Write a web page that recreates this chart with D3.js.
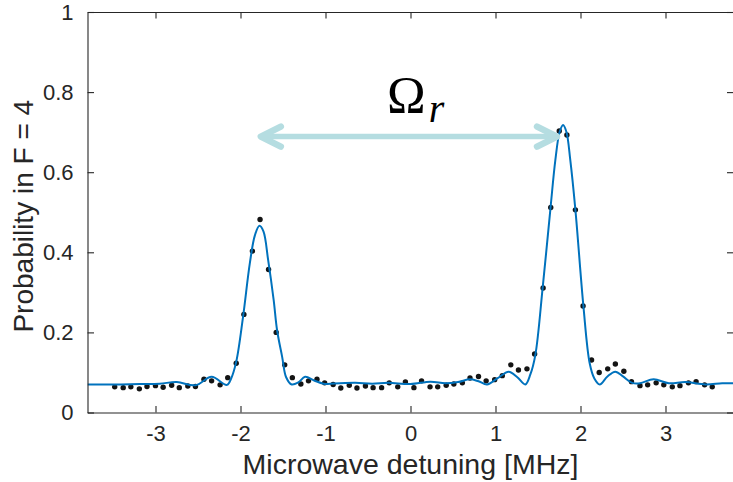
<!DOCTYPE html>
<html>
<head>
<meta charset="utf-8">
<script src="https://cdn.jsdelivr.net/npm/d3@7"></script>
<style>
  html, body { margin: 0; padding: 0; background: #fff; }
  svg { display: block; }
  text { font-family: "Liberation Sans", Arial, Helvetica, sans-serif; fill: #262626; }
</style>
</head>
<body>
<svg id="chart" width="733" height="482"></svg>
<script>
// Measured population in F = 4 versus microwave detuning (MHz)
const detuning = [
  -3.48, -3.38, -3.29, -3.19, -3.10, -3.00, -2.91, -2.81, -2.72, -2.62,
  -2.53, -2.43, -2.34, -2.24, -2.15, -2.05, -1.96, -1.86, -1.77, -1.67,
  -1.58, -1.48, -1.39, -1.29, -1.20, -1.10, -1.01, -0.91, -0.82, -0.72,
  -0.63, -0.53, -0.44, -0.34, -0.25, -0.15, -0.06, 0.04, 0.13, 0.23,
  0.32, 0.42, 0.51, 0.61, 0.70, 0.80, 0.89, 0.99, 1.08, 1.18,
  1.27, 1.37, 1.46, 1.56, 1.65, 1.75, 1.84, 1.94, 2.03, 2.13,
  2.22, 2.32, 2.41, 2.51, 2.60, 2.70, 2.79, 2.89, 2.98, 3.08,
  3.17, 3.27, 3.36, 3.46, 3.55
];
const probability = [
  0.064, 0.062, 0.064, 0.059, 0.065, 0.067, 0.063, 0.068, 0.062, 0.066,
  0.065, 0.083, 0.079, 0.069, 0.087, 0.123, 0.245, 0.403, 0.482, 0.357,
  0.200, 0.119, 0.087, 0.071, 0.079, 0.083, 0.074, 0.070, 0.061, 0.068,
  0.061, 0.066, 0.062, 0.062, 0.074, 0.064, 0.076, 0.062, 0.079, 0.064,
  0.064, 0.068, 0.071, 0.074, 0.086, 0.090, 0.079, 0.082, 0.092, 0.119,
  0.106, 0.109, 0.146, 0.311, 0.512, 0.703, 0.693, 0.506, 0.266, 0.131,
  0.100, 0.109, 0.121, 0.103, 0.077, 0.067, 0.069, 0.074, 0.069, 0.064,
  0.067, 0.074, 0.077, 0.069, 0.064
];

// Theory curve for the two Rabi sidebands
const fitDetuning = [
  -3.80, -3.48, -3.18, -2.95, -2.75, -2.53, -2.34, -2.16, -2.11, -2.05,
  -1.97, -1.89, -1.83, -1.777, -1.73, -1.675, -1.61, -1.57, -1.51, -1.463,
  -1.398, -1.32, -1.24, -1.133, -1.024, -0.83, -0.65, -0.45, -0.26, 0.00,
  0.235, 0.41, 0.56, 0.70, 0.80, 0.90, 1.02, 1.155, 1.257, 1.35,
  1.41, 1.469, 1.555, 1.645, 1.704, 1.755, 1.795, 1.834, 1.88, 1.94,
  2.034, 2.108, 2.163, 2.226, 2.317, 2.41, 2.50, 2.607, 2.70, 2.86,
  3.04, 3.235, 3.47, 3.667, 3.80
];
const fitProbability = [
  0.070, 0.070, 0.071, 0.072, 0.076, 0.068, 0.089, 0.069, 0.085, 0.127,
  0.239, 0.373, 0.443, 0.466, 0.452, 0.381, 0.281, 0.206, 0.139, 0.088,
  0.070, 0.075, 0.089, 0.080, 0.072, 0.073, 0.074, 0.072, 0.074, 0.071,
  0.077, 0.073, 0.076, 0.083, 0.078, 0.070, 0.085, 0.102, 0.088, 0.070,
  0.095, 0.144, 0.312, 0.506, 0.630, 0.701, 0.718, 0.701, 0.630, 0.506,
  0.266, 0.123, 0.085, 0.070, 0.090, 0.102, 0.090, 0.074, 0.073, 0.083,
  0.073, 0.076, 0.070, 0.073, 0.073
];

const xTicks = [-3, -2, -1, 0, 1, 2, 3];
const xTickLabels = ["-3", "-2", "-1", "0", "1", "2", "3"];
const yTicks = [0, 0.2, 0.4, 0.6, 0.8, 1];
const yTickLabels = ["0", "0.2", "0.4", "0.6", "0.8", "1"];

const svg = d3.select("#chart");
const plotLeft = 87.5, plotRight = 733.5, plotTop = 12, plotBottom = 412.5;
const axisColor = "#262626";
const tickLen = 6.5;

const x = d3.scaleLinear().domain([-3.8, 3.8]).range([plotLeft, plotRight]);
const y = d3.scaleLinear().domain([0, 1]).range([plotBottom, plotTop]);

// Theory curve
const line = d3.line()
  .x((d, i) => x(fitDetuning[i]))
  .y((d, i) => y(fitProbability[i]))
  .curve(d3.curveCatmullRom.alpha(0.5));

const plot = svg.append("g");
plot.append("defs").append("clipPath").attr("id", "plot-clip")
  .append("rect").attr("x", plotLeft).attr("y", plotTop)
  .attr("width", plotRight - plotLeft).attr("height", plotBottom - plotTop);

// Data points
plot.append("g")
  .selectAll("circle")
  .data(probability)
  .join("circle")
  .attr("cx", (d, i) => x(detuning[i]))
  .attr("cy", d => y(d))
  .attr("r", 2.7)
  .attr("fill", "#141414");

plot.append("path")
  .datum(fitProbability)
  .attr("clip-path", "url(#plot-clip)")
  .attr("fill", "none")
  .attr("stroke", "#0072BD")
  .attr("stroke-width", 2)
  .attr("stroke-linejoin", "round")
  .attr("d", line);

// Axes (box with inward ticks)
const xAxisBottom = d3.axisBottom(x).tickValues(xTicks)
  .tickFormat((d, i) => xTickLabels[i]).tickSizeInner(-tickLen).tickSizeOuter(0).tickPadding(13);
const xAxisTop = d3.axisTop(x).tickValues(xTicks)
  .tickFormat("").tickSizeInner(-tickLen).tickSizeOuter(0);
const yAxisLeft = d3.axisLeft(y).tickValues(yTicks)
  .tickFormat((d, i) => yTickLabels[i]).tickSizeInner(-tickLen).tickSizeOuter(0).tickPadding(14);
const yAxisRight = d3.axisRight(y).tickValues(yTicks)
  .tickFormat("").tickSizeInner(-tickLen).tickSizeOuter(0);

function styleAxis(g) {
  g.select(".domain").attr("stroke", axisColor).attr("stroke-width", 1.1);
  g.selectAll(".tick line").attr("stroke", axisColor).attr("stroke-width", 1.1);
  g.selectAll(".tick text").attr("fill", axisColor)
    .style("font-family", "'Liberation Sans', Arial, sans-serif")
    .style("font-size", "22px");
}

svg.append("g").attr("transform", `translate(0,${plotBottom})`).call(xAxisBottom).call(styleAxis);
svg.append("g").attr("transform", `translate(0,${plotTop})`).call(xAxisTop).call(styleAxis);
svg.append("g").attr("transform", `translate(${plotLeft},0)`).call(yAxisLeft).call(styleAxis);
svg.append("g").attr("transform", `translate(${plotRight},0)`).call(yAxisRight).call(styleAxis);

// Axis titles
svg.append("text")
  .attr("x", (plotLeft + plotRight) / 2)
  .attr("y", 474)
  .attr("text-anchor", "middle")
  .style("font-size", "28.5px")
  .text("Microwave detuning [MHz]");

svg.append("text")
  .attr("transform", `translate(33,${(plotTop + plotBottom) / 2 + 4}) rotate(-90)`)
  .attr("text-anchor", "middle")
  .style("font-size", "28px")
  .text("Probability in F = 4");

// Double-headed arrow spanning the two sidebands
const arrowColor = "#b5dde1";
const arrowY = y(0.689);
const ax0 = x(-1.761), ax1 = x(1.724);
const arrow = svg.append("g")
  .attr("stroke", arrowColor)
  .attr("stroke-linecap", "round")
  .attr("stroke-linejoin", "round")
  .attr("fill", "none");
arrow.append("line")
  .attr("x1", ax0 + 2).attr("x2", ax1 - 2)
  .attr("y1", arrowY).attr("y2", arrowY)
  .attr("stroke-width", 5.5);
arrow.append("path")
  .attr("d", `M${ax0 + 20},${arrowY - 10} L${ax0},${arrowY} L${ax0 + 20},${arrowY + 10}`)
  .attr("stroke-width", 6.5);
arrow.append("path")
  .attr("d", `M${ax1 - 20},${arrowY - 10} L${ax1},${arrowY} L${ax1 - 20},${arrowY + 10}`)
  .attr("stroke-width", 6.5);

// Rabi frequency label
const omega = svg.append("text")
  .attr("x", 387)
  .attr("y", 113)
  .style("font-family", "'Liberation Serif', 'DejaVu Serif', serif")
  .style("fill", "#000");
omega.append("tspan").style("font-size", "52px").text("Ω");
omega.append("tspan")
  .attr("dx", 3)
  .attr("dy", 9)
  .style("font-size", "40px")
  .style("font-style", "italic")
  .text("r");
</script>
</body>
</html>
